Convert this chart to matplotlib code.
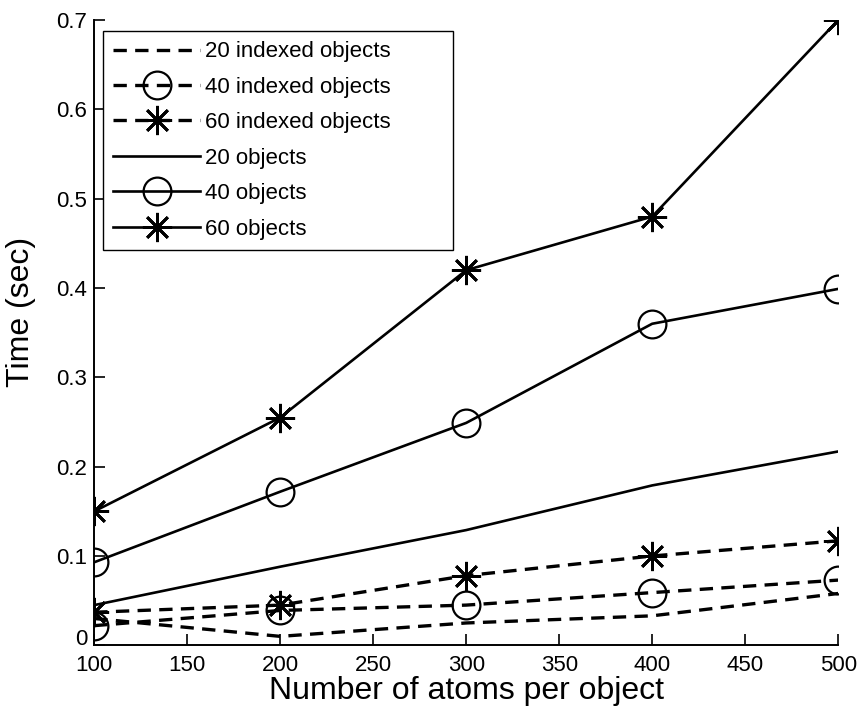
import matplotlib
matplotlib.use("Agg")
import matplotlib.pyplot as plt

atoms = [100, 200, 300, 400, 500]
idx20 = [0.030, 0.010, 0.025, 0.033, 0.058]
idx40 = [0.022, 0.039, 0.045, 0.059, 0.073]
idx60 = [0.037, 0.045, 0.078, 0.100, 0.117]
obj20 = [0.045, 0.088, 0.129, 0.179, 0.217]
obj40 = [0.093, 0.172, 0.249, 0.360, 0.399]
obj60 = [0.150, 0.255, 0.420, 0.480, 0.700]

labels = ["20 indexed objects", "40 indexed objects", "60 indexed objects",
          "20 objects", "40 objects", "60 objects"]
xticks = [100, 150, 200, 250, 300, 350, 400, 450, 500]
yticks = [0, 0.1, 0.2, 0.3, 0.4, 0.5, 0.6, 0.7]
ytick_labels = ["0", "0.1", "0.2", "0.3", "0.4", "0.5", "0.6", "0.7"]

font = "Liberation Sans"

fig = plt.figure(figsize=(8.57, 7.17), dpi=100)
ax = fig.add_axes([0.110, 0.100, 0.868, 0.872])

star = (8, 2, 0)
kw_d = dict(color="black", linestyle=(0, (4, 2.5)), linewidth=2.4)
kw_s = dict(color="black", linestyle="-", linewidth=1.9)

ax.plot(atoms, idx20, label=labels[0], **kw_d)
ax.plot(atoms, idx40, label=labels[1], marker="o", markersize=20, markerfacecolor="none",
        markeredgecolor="black", markeredgewidth=1.6, **kw_d)
ax.plot(atoms, idx60, label=labels[2], marker=star, markersize=21,
        markeredgecolor="black", markeredgewidth=2.0, **kw_d)
ax.plot(atoms, obj20, label=labels[3], **kw_s)
ax.plot(atoms, obj40, label=labels[4], marker="o", markersize=20, markerfacecolor="none",
        markeredgecolor="black", markeredgewidth=1.6, **kw_s)
ax.plot(atoms, obj60, label=labels[5], marker=star, markersize=21,
        markeredgecolor="black", markeredgewidth=2.0, **kw_s)

ax.set_xlim(100, 500)
ax.set_ylim(0, 0.7)
ax.set_xticks(xticks)
ax.set_xticklabels([str(v) for v in xticks], fontfamily=font, fontsize=16)
ax.set_yticks(yticks)
ax.set_yticklabels(ytick_labels, fontfamily=font, fontsize=16)
ax.tick_params(direction="in", length=8, width=1.2)
ax.tick_params(axis="x", pad=7)
ax.tick_params(axis="y", pad=5)
ax.yaxis.get_major_ticks()[0].label1.set_verticalalignment("baseline")
ax.spines["top"].set_visible(False)
ax.spines["right"].set_visible(False)
ax.spines["left"].set_linewidth(1.4)
ax.spines["bottom"].set_linewidth(1.4)

ax.set_xlabel("Number of atoms per object", fontsize=23, fontfamily=font, labelpad=0)
ax.set_ylabel("Time (sec)", fontsize=23, fontfamily=font)
ax.yaxis.set_label_coords(-0.079, 0.533)

leg = ax.legend(loc="upper left", bbox_to_anchor=(0.012, 0.0, 0.470, 0.982), mode="expand",
                frameon=True, fancybox=False,
                edgecolor="black", framealpha=1, handlelength=3.9, handletextpad=0.25,
                borderpad=0.45, labelspacing=0.65, borderaxespad=0,
                prop={"family": font, "size": 16})
leg.get_frame().set_linewidth(1.0)

fig.savefig("out.png", dpi=100)
